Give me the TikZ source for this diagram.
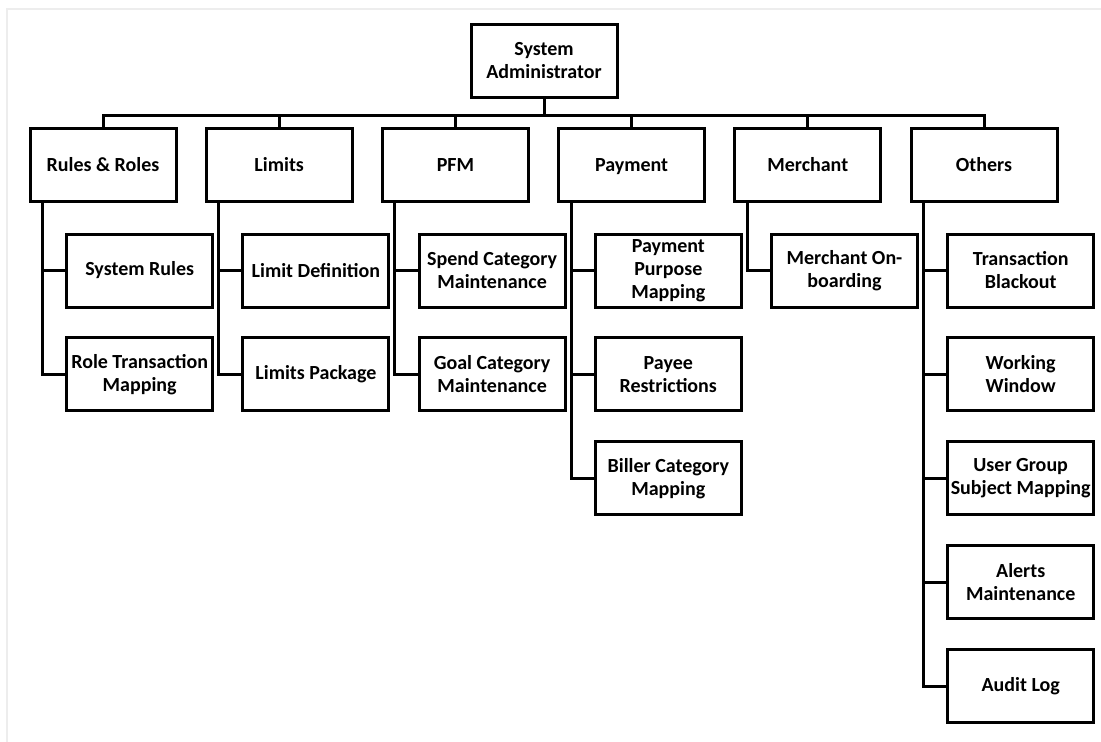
\documentclass[tikz,border=0pt]{standalone}
\usepackage{fontspec}
\setmainfont{Carlito}
\usetikzlibrary{positioning}

\begin{document}
\begin{tikzpicture}[x=1pt, y=-1pt,
    box/.style={draw, line width=3pt, minimum width=146pt, minimum height=73pt,
        inner sep=0pt, align=center, font=\fontsize{20}{23}\selectfont\bfseries},
    head/.style={box, text height=13pt, text depth=0pt},
    link/.style={line width=3pt}]
    \useasboundingbox (0,0) rectangle (1101,742);

    % light page edge
    \draw[line width=2pt, black!7] (7,742) -- (7,9) -- (1101,9);

    % root
    \node[box] (admin) at (544,61) {System\\Administrator};

    % first level, hanging from one bus
    \foreach \name/\txt [count=\i from 0] in {rules/Rules \& Roles, limits/Limits,
            pfm/PFM, payment/Payment, merchant/Merchant, others/Others} {
        \node[head] (\name) at (103+176.2*\i,165) {\txt};
        \draw[link] (admin.south) -- ++(0,16) -| (\name.north);
    }

    % second level, each on a spine under its parent
    \foreach \up/\col/\row/\name/\txt in {
            rules/0/0/sysrules/{System Rules},
            rules/0/1/roletrans/{Role Transaction\\Mapping},
            limits/1/0/limitdef/{Limit Definition},
            limits/1/1/limitpkg/{Limits Package},
            pfm/2/0/spendcat/{Spend Category\\Maintenance},
            pfm/2/1/goalcat/{Goal Category\\Maintenance},
            payment/3/0/purpose/{Payment\\Purpose\\Mapping},
            payment/3/1/payee/{Payee\\Restrictions},
            payment/3/2/biller/{Biller Category\\Mapping},
            merchant/4/0/onboard/{Merchant On-\\boarding},
            others/5/0/blackout/{Transaction\\Blackout},
            others/5/1/window/{Working\\Window},
            others/5/2/usergroup/{User Group\\Subject Mapping},
            others/5/3/alerts/{Alerts\\Maintenance},
            others/5/4/audit/{Audit Log}} {
        \node[box] (\name) at (139.7+176.2*\col,270.5+103.9*\row) {\txt};
        \draw[link] ([xshift=14pt]\up.south west) |- (\name.west);
    }
\end{tikzpicture}
\end{document}
